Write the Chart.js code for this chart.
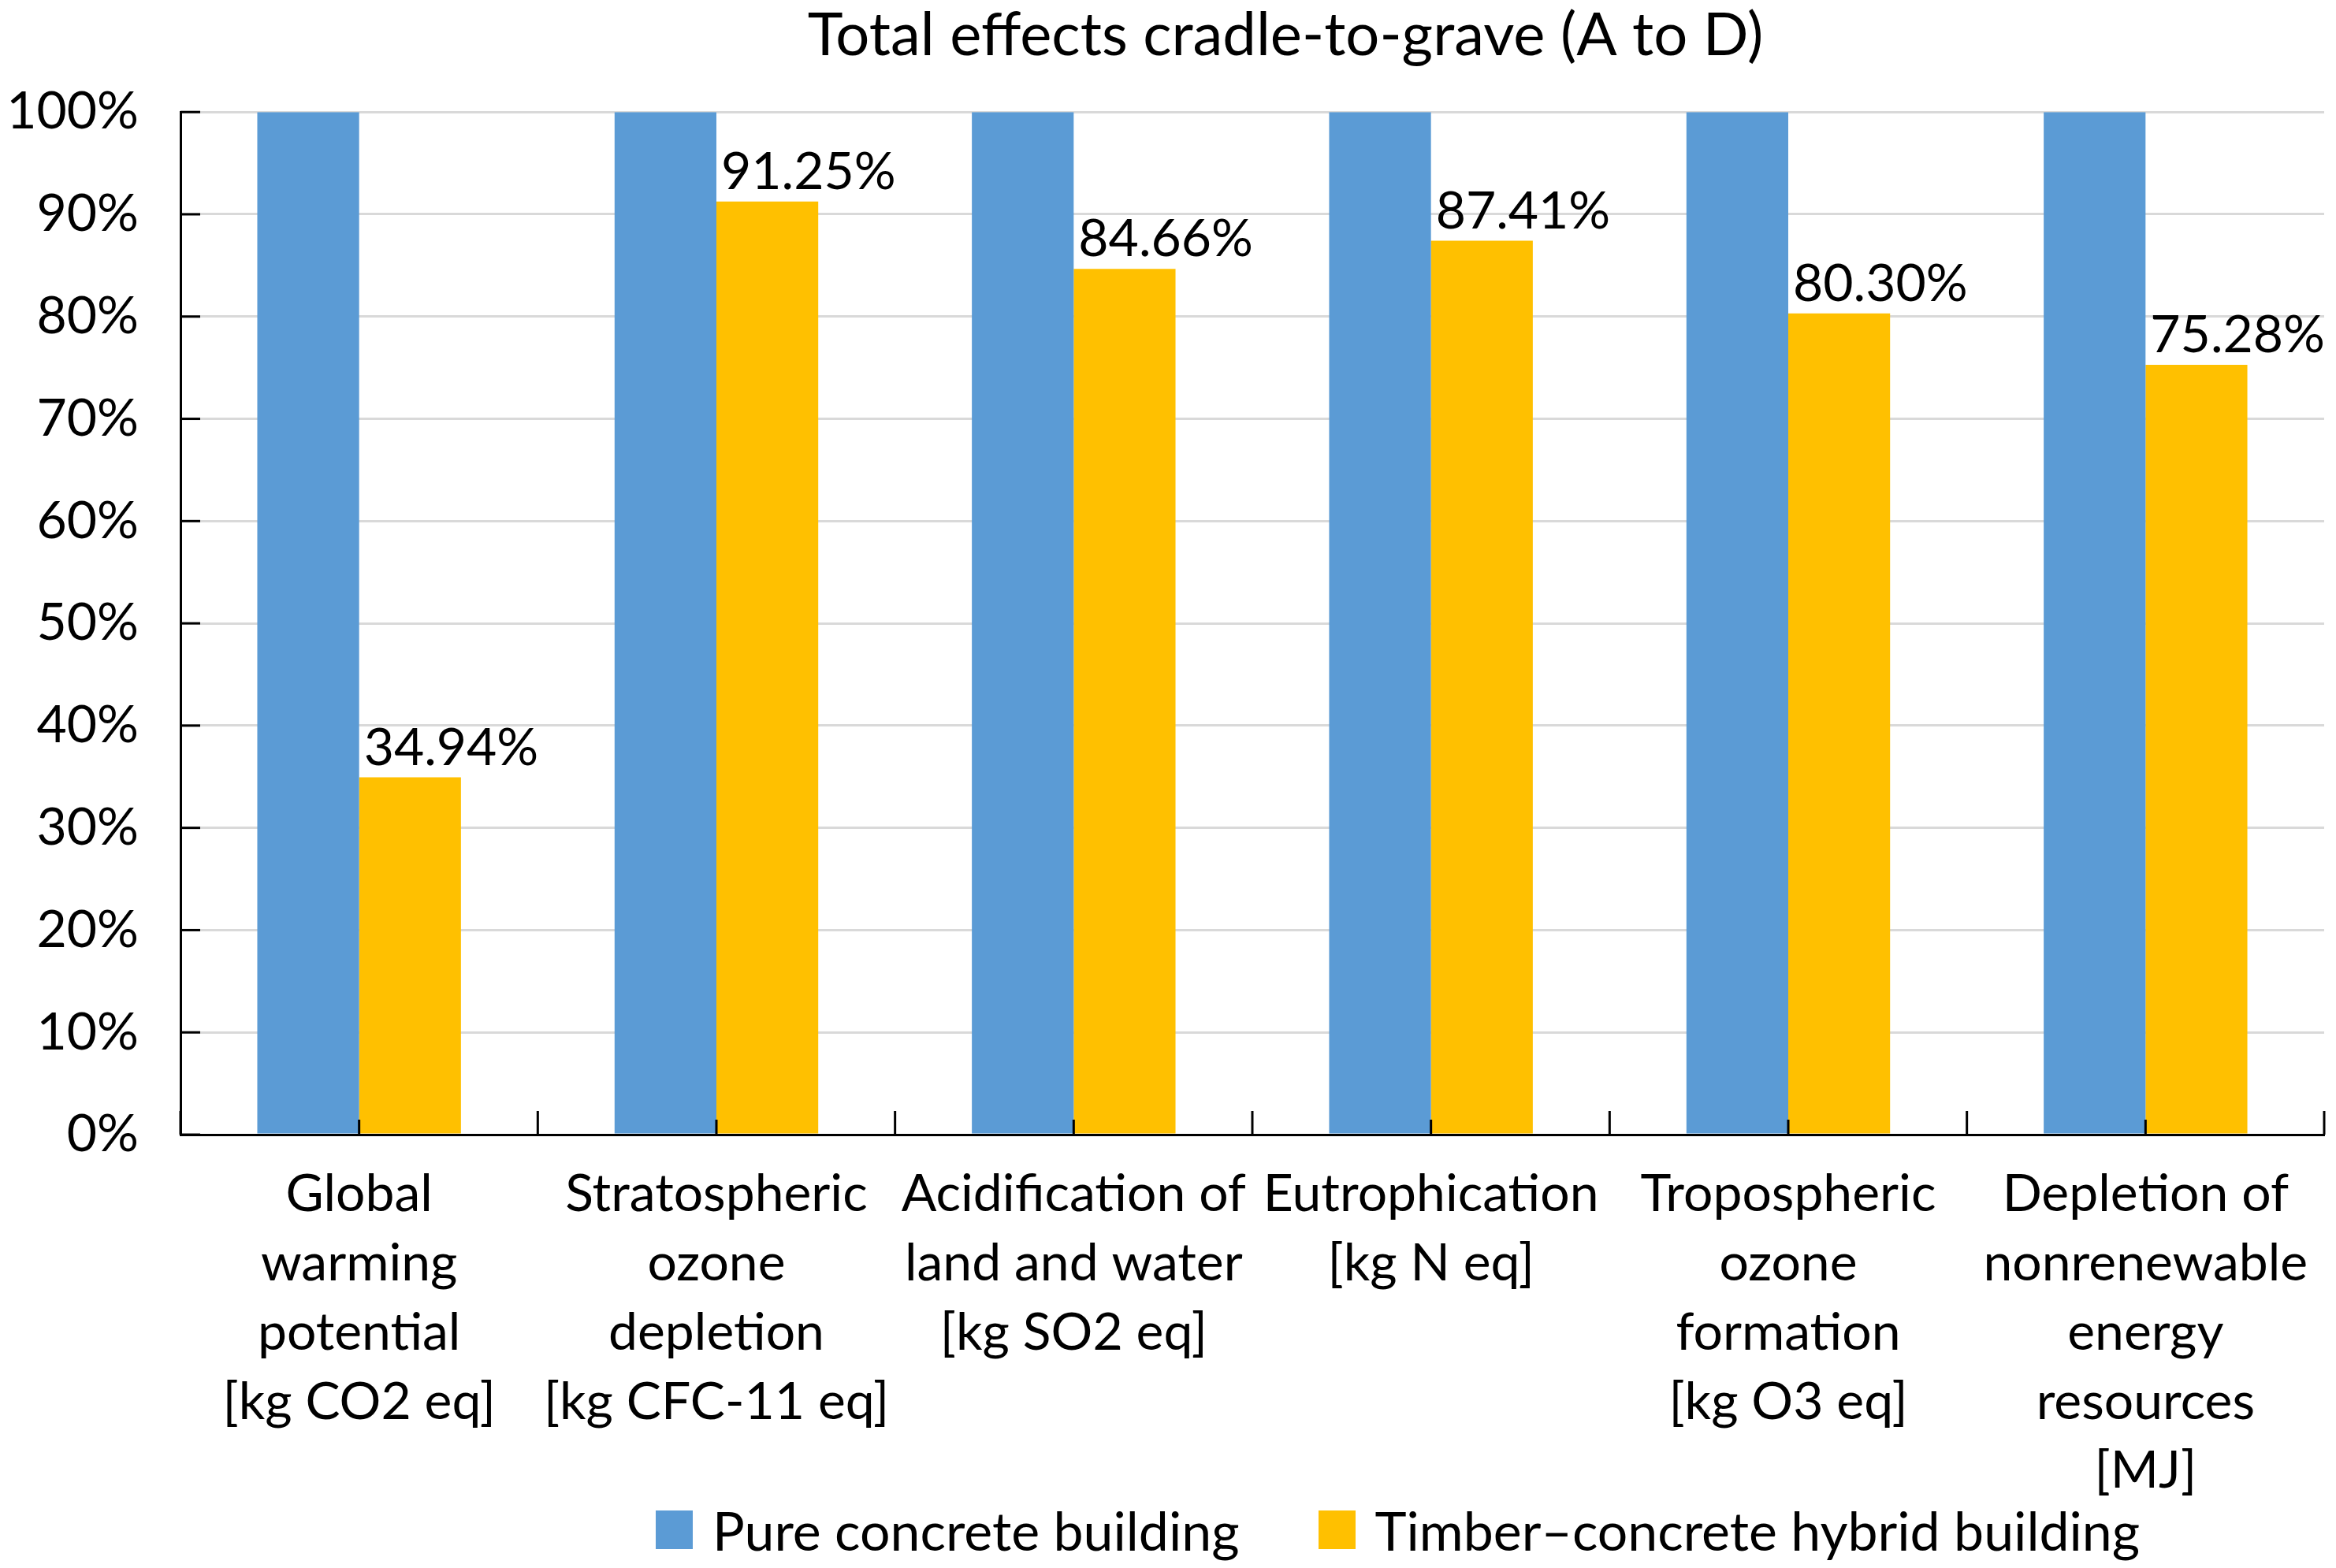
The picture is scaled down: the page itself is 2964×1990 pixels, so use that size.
<!DOCTYPE html>
<html>
<head>
<meta charset="utf-8">
<script src="https://cdn.jsdelivr.net/npm/chart.js@4.4.1/dist/chart.umd.min.js"></script>
<style>
  html, body { margin: 0; padding: 0; background: #fff; }
  #wrap { position: relative; width: 2964px; height: 1990px; }
  #legend {
    position: absolute; left: 832px; top: 1901px;
    display: flex; align-items: center;
    font-family: Lato, sans-serif; font-size: 68px; color: #000;
  }
  #legend .item { display: flex; align-items: center; margin-right: 100px; }
  #legend .box { width: 47px; height: 49px; margin-right: 25px; }
</style>
</head>
<body>
<div id="wrap">
  <canvas id="lcaChart"></canvas>
  <div id="legend"></div>
</div>
<script>
const categories = [
  ["Global", "warming", "potential", "[kg CO2 eq]"],
  ["Stratospheric", "ozone", "depletion", "[kg CFC-11 eq]"],
  ["Acidification of", "land and water", "[kg SO2 eq]"],
  ["Eutrophication", "[kg N eq]"],
  ["Tropospheric", "ozone", "formation", "[kg O3 eq]"],
  ["Depletion of", "nonrenewable", "energy", "resources", "[MJ]"]
];
const seriesNames = ["Pure concrete building", "Timber\u2013concrete hybrid building"];
const concreteValues = [100, 100, 100, 100, 100, 100];
const hybridValues = [34.94, 91.25, 84.66, 87.41, 80.30, 75.28];
const yTicks = [0, 10, 20, 30, 40, 50, 60, 70, 80, 90, 100];

Chart.defaults.font.family = "Lato, sans-serif";
Chart.defaults.color = "#000";

// short inside tick marks like the Excel original
const axisTicks = {
  id: "axisTicks",
  afterDatasetsDraw(chart) {
    const { ctx, chartArea, scales: { x, y } } = chart;
    ctx.save();
    ctx.strokeStyle = "#000";
    ctx.lineWidth = 3;
    const line = (x1, y1, x2, y2) => {
      ctx.beginPath(); ctx.moveTo(x1, y1); ctx.lineTo(x2, y2); ctx.stroke();
    };
    y.ticks.forEach(t => {
      const py = y.getPixelForValue(t.value);
      line(chartArea.left, py, chartArea.left + 25, py);
    });
    const step = x.getPixelForValue(1) - x.getPixelForValue(0);
    const b = chartArea.bottom;
    categories.forEach((c, i) => {
      const cx = x.getPixelForValue(i);
      line(cx - step / 2, b, cx - step / 2, b - 30);
      line(cx, b, cx, b - 19);
    });
    const lastX = x.getPixelForValue(categories.length - 1) + step / 2;
    line(lastX, b, lastX, b - 30);
    ctx.restore();
  }
};

// value labels above the hybrid bars
const barLabels = {
  id: "barLabels",
  afterDatasetsDraw(chart) {
    const { ctx } = chart;
    const meta = chart.getDatasetMeta(1);
    ctx.save();
    ctx.font = "66px Lato, sans-serif";
    ctx.fillStyle = "#000";
    ctx.textAlign = "left";
    ctx.textBaseline = "alphabetic";
    meta.data.forEach((bar, i) => {
      ctx.fillText(hybridValues[i].toFixed(2) + "%", bar.x - bar.width / 2 + 6, bar.y - 16);
    });
    ctx.restore();
  }
};

// title sits a bit right of the canvas centre in the original
const titleShift = {
  id: "titleShift",
  afterLayout(chart) {
    const t = chart.titleBlock;
    t.left = chart.chartArea.left + 84;
    t.right = chart.chartArea.right;
  }
};

const ctx = document.getElementById("lcaChart");

const chart = new Chart(ctx, {
  type: "bar",
  data: {
    labels: categories,
    datasets: [
      { label: seriesNames[0], data: concreteValues, backgroundColor: "#5b9bd5", borderWidth: 0 },
      { label: seriesNames[1], data: hybridValues, backgroundColor: "#ffc000", borderWidth: 0 }
    ]
  },
  options: {
    responsive: true,
    maintainAspectRatio: false,
    devicePixelRatio: 1,
    animation: false,
    categoryPercentage: 0.57,
    barPercentage: 1.0,
    layout: { padding: { left: 0, right: 15, top: 0, bottom: 0 } },
    plugins: {
      legend: { display: false },
      tooltip: { enabled: false },
      title: {
        display: true,
        text: "Total effects cradle-to-grave (A to D)",
        font: { size: 76, weight: "normal" },
        color: "#000",
        padding: { top: 0, bottom: 51 }
      }
    },
    scales: {
      x: {
        offset: true,
        grid: { display: false, drawTicks: false },
        border: { display: true, color: "#000", width: 3 },
        ticks: {
          autoSkip: false,
          maxRotation: 0,
          minRotation: 0,
          padding: 32,
          font: { size: 66, lineHeight: 1.33 },
          color: "#000"
        },
        afterFit(scale) { scale.height = 550; }
      },
      y: {
        min: 0,
        max: 100,
        afterBuildTicks(scale) { scale.ticks = yTicks.map(v => ({ value: v })); },
        grid: { color: "#d9d9d9", lineWidth: 3, drawTicks: false },
        border: { display: true, color: "#000", width: 3 },
        ticks: {
          padding: 53,
          font: { size: 66 },
          color: "#000",
          callback: v => v + "%"
        },
        afterFit(scale) { scale.width = 229; }
      }
    }
  },
  plugins: [axisTicks, barLabels, titleShift]
});

// HTML legend built from the datasets
function buildLegend(chart) {
  const el = document.getElementById("legend");
  el.innerHTML = "";
  chart.data.datasets.forEach(ds => {
    const item = document.createElement("div");
    item.className = "item";
    const box = document.createElement("span");
    box.className = "box";
    box.style.background = ds.backgroundColor;
    const txt = document.createElement("span");
    txt.textContent = ds.label;
    item.appendChild(box);
    item.appendChild(txt);
    el.appendChild(item);
  });
}

buildLegend(chart);
</script>
</body>
</html>
